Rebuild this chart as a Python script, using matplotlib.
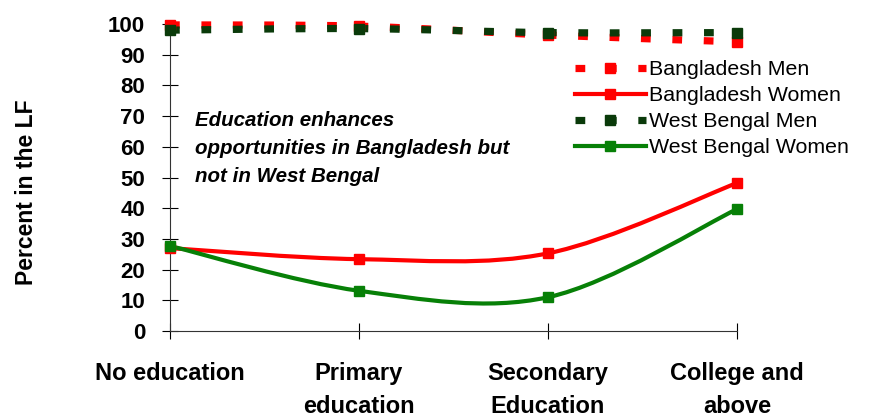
import matplotlib
matplotlib.use("Agg")
import matplotlib.pyplot as plt
from matplotlib.path import Path
from matplotlib.patches import PathPatch
from matplotlib.lines import Line2D

categories = ["No education", "Primary\neducation", "Secondary\nEducation", "College and\nabove"]
bd_men = [99.7, 99.3, 96.4, 94.2]
bd_women = [27.0, 23.4, 25.3, 48.2]
wb_men = [98.0, 98.5, 97.2, 97.2]
wb_women = [27.7, 13.1, 11.0, 39.7]
series_names = ["Bangladesh Men", "Bangladesh Women", "West Bengal Men", "West Bengal Women"]
yticks = list(range(0, 101, 10))
note = "Education enhances\nopportunities in Bangladesh but\nnot in West Bengal"

plt.rcParams['font.family'] = ['Liberation Sans', 'DejaVu Sans']

fig = plt.figure(figsize=(8.7, 4.19), dpi=100)
ax = fig.add_axes([170/870, 1-331/419, (737-170)/870, (331-24)/419])


def smooth_path(xs, ys):
    pts = list(zip(xs, ys))
    n = len(pts)
    verts = [pts[0]]
    codes = [Path.MOVETO]
    for i in range(n - 1):
        p0 = pts[max(i - 1, 0)]
        p1 = pts[i]
        p2 = pts[i + 1]
        p3 = pts[min(i + 2, n - 1)]
        c1 = (p1[0] + (p2[0] - p0[0]) / 6, p1[1] + (p2[1] - p0[1]) / 6)
        c2 = (p2[0] - (p3[0] - p1[0]) / 6, p2[1] - (p3[1] - p1[1]) / 6)
        verts += [c1, c2, p2]
        codes += [Path.CURVE4] * 3
    return Path(verts, codes)


xs = list(range(len(categories)))
styles = [
    (bd_men, "#FF0000", 5.2, (0, (1.35, 3.0))),
    (bd_women, "#FF0000", 3.0, "solid"),
    (wb_men, "#0A3A0A", 5.2, (0, (1.35, 3.0))),
    (wb_women, "#078007", 3.0, "solid"),
]
handles = []
for (vals, col, lw, ls), name in zip(styles, series_names):
    patch = PathPatch(smooth_path(xs, vals), facecolor="none", edgecolor=col,
                      lw=lw, linestyle=ls, capstyle="butt", clip_on=False, zorder=3)
    ax.add_patch(patch)
    ax.plot(xs, vals, linestyle="none", marker="s", markersize=7.5, color=col,
            clip_on=False, zorder=4)
    handles.append(Line2D([], [], color=col, lw=lw, linestyle=ls, marker="s",
                          markersize=7.5, dash_capstyle="butt"))

ax.set_xlim(0, 3)
ax.set_ylim(0, 100)
ax.set_yticks(yticks)
ax.set_yticklabels([str(t) for t in yticks], fontsize=16, fontweight="bold")
ax.set_xticks(xs)
ax.set_xticklabels(categories, fontsize=17, fontweight="bold", linespacing=1.55)
ax.tick_params(axis="y", direction="inout", length=12, width=0.8, pad=12)
ax.tick_params(axis="x", direction="inout", length=11, width=0.8, pad=17)
for s in ["top", "right"]:
    ax.spines[s].set_visible(False)
for s in ["left", "bottom"]:
    ax.spines[s].set_linewidth(0.8)
    ax.spines[s].set_color("#333333")

fig.text(27/870, 1-192/419, "Percent in the LF", rotation=90, fontsize=16.5,
         fontweight="bold", ha="center", va="center")

fig.text(195/870, 1-111/419, note, fontsize=14.8, fontweight="bold", style="italic",
         ha="left", va="top", linespacing=1.6)

fig.legend(handles, series_names, loc="upper left", bbox_to_anchor=(575/870, 1-60/419),
           frameon=False, fontsize=15.4, handlelength=3.3, handletextpad=0.15,
           labelspacing=0.33, borderaxespad=0, borderpad=0)

fig.savefig("out.png", dpi=100)
